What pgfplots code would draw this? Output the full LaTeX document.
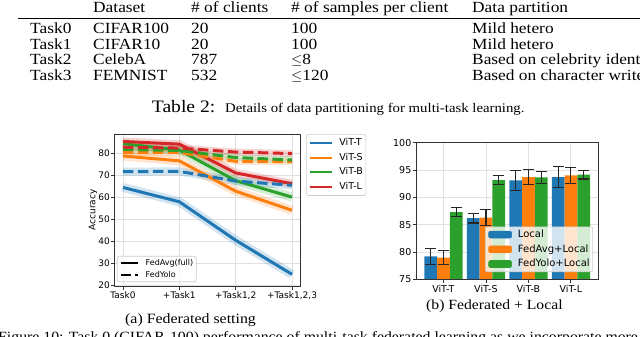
\documentclass[border=0pt]{standalone}
\usepackage{pgfplots}
\pgfplotsset{compat=1.18}
\usepackage{fontspec}
\setmainfont{Liberation Serif}[FakeStretch=1.12]
\newfontfamily\pf{DejaVu Sans}
\definecolor{tblue}{HTML}{1F77B4}
\definecolor{torange}{HTML}{FF7F0E}
\definecolor{tgreen}{HTML}{2CA02C}
\definecolor{tred}{HTML}{D62728}
\newcommand{\fs}[1]{\fontsize{#1}{#1}\selectfont}

% bar position (group index shifted by bar offset), value, error
\pgfplotstableread{
x y e
-0.3 79.2 1.5
0.7 86.2 0.9
1.7 93.1 1.8
2.7 93.7 1.9
}\localtab
\pgfplotstableread{
x y e
0 78.95 1.25
1 86.3 1.45
2 93.7 1.4
3 94.0 1.4
}\avgtab
\pgfplotstableread{
x y e
0.3 87.3 0.8
1.3 93.15 0.8
2.3 93.65 1.05
3.3 94.15 0.8
}\yolotab

\pgfplotsset{
  mpl/.style={
    scale only axis,
    anchor=south west,
    grid=major,
    major grid style={black!12, line width=0.8pt},
    axis line style={black!80, line width=0.8pt},
    tick style={black!80, line width=0.8pt},
    tick align=outside, major tick length=3.5pt, tick pos=left,
    /pgf/number format/assume math mode=true,
    xticklabel style={anchor=north, inner sep=0pt, yshift=-2pt},
    yticklabel style={anchor=east, inner sep=0pt, xshift=-1pt},
  },
  mpllegend/.style={
    draw=black!20, line width=0.6pt, rounded corners=2pt, fill=white,
    inner xsep=3pt, inner ysep=3pt,
    /tikz/every odd column/.append style={column sep=6pt},
    nodes={inner sep=0pt},
  },
}

\begin{document}
\begin{tikzpicture}
\useasboundingbox (0pt,0pt) rectangle (640pt,-337pt);
\clip (0pt,0pt) rectangle (640pt,-337pt);

% ---------- table ----------
\begin{scope}[every node/.style={anchor=base west, inner sep=0pt, font=\fs{15.5}}]
\node at (93pt,-13pt) {Dataset};
\node at (191pt,-13pt) {\# of clients};
\node at (291pt,-13pt) {\# of samples per client};
\node at (472pt,-13pt) {Data partition};
\node at (30pt,-34pt) {Task0};
\node at (93pt,-34pt) {CIFAR100};
\node at (191pt,-34pt) {20};
\node at (291pt,-34pt) {100};
\node at (472pt,-34pt) {Mild hetero};
\node at (30pt,-49.5pt) {Task1};
\node at (93pt,-49.5pt) {CIFAR10};
\node at (191pt,-49.5pt) {20};
\node at (291pt,-49.5pt) {100};
\node at (472pt,-49.5pt) {Mild hetero};
\node at (30pt,-65pt) {Task2};
\node at (93pt,-65pt) {CelebA};
\node at (191pt,-65pt) {787};
\node at (291pt,-65pt) {$\leq$8};
\node at (472pt,-65pt) {Based on celebrity identity};
\node at (30pt,-80.5pt) {Task3};
\node at (93pt,-80.5pt) {FEMNIST};
\node at (191pt,-80.5pt) {532};
\node at (291pt,-80.5pt) {$\leq$120};
\node at (472pt,-80.5pt) {Based on character writer};
\node[font=\fs{17.5}] at (151.7pt,-112.5pt) {Table 2:};
\node[font=\fs{13.2}] at (225pt,-112.5pt) {Details of data partitioning for multi-task learning.};
\node[font=\fs{14.2}] at (125pt,-323pt) {(a) Federated setting};
\node[font=\fs{14}] at (426pt,-309.5pt) {(b) Federated + Local};
\node[font=\fs{14.1}] at (-2pt,-341pt) {Figure 10: Task 0 (CIFAR-100) performance of multi-task federated learning as we incorporate more tasks};
\end{scope}
\draw[black, line width=0.8pt] (18pt,-18.3pt) -- (650pt,-18.3pt);

% ---------- left plot ----------
\begin{axis}[mpl,
  width=186pt, height=152pt, at={(114.5pt,-286pt)},
  xmin=-0.15, xmax=3.15, ymin=19.7, ymax=88.8,
  xtick={0,1,2,3},
  xticklabels={Task0,+Task1,{+Task1,2},{+Task1,2,3}},
  ytick={20,30,...,80},
  tick label style={font=\pf\fs{9}},
  every axis y label/.style={at={(axis description cs:-0.1156,0.5)}, rotate=90, anchor=center, font=\pf\fs{9}},
  ylabel={Accuracy},
  legend style={mpllegend, at={(1.03,1)}, anchor=north west, font=\pf\fs{9.5}, row sep=6pt,
    inner ysep=4pt, nodes={text height=7pt, text depth=1.8pt}},
  legend cell align=left,
  legend image code/.code={\draw[#1, line width=2pt] (0pt,0pt) -- (22pt,0pt);},
  line join=round,
]
% shaded bands
\addplot[tblue, line width=9pt, opacity=0.2, forget plot] coordinates {(0,64.5) (1,58.0) (2,40.5) (3,25.0)};
\addplot[tblue, line width=8pt, opacity=0.2, forget plot] coordinates {(0,71.7) (1,71.8) (2,67.4) (3,65.5)};
\addplot[torange, line width=9pt, opacity=0.2, forget plot] coordinates {(0,78.8) (1,76.6) (2,62.8) (3,54.1)};
\addplot[torange, line width=7pt, opacity=0.2, forget plot] coordinates {(0,80.4) (1,80.4) (2,76.4) (3,76.2)};
\addplot[tgreen, line width=9pt, opacity=0.2, forget plot] coordinates {(0,84.4) (1,81.5) (2,67.6) (3,60.1)};
\addplot[tgreen, line width=7pt, opacity=0.2, forget plot] coordinates {(0,81.8) (1,81.3) (2,78.1) (3,77.0)};
\addplot[tred, line width=8pt, opacity=0.2, forget plot] coordinates {(0,85.4) (1,84.2) (2,71.1) (3,66.2)};
\addplot[tred, line width=7pt, opacity=0.2, forget plot] coordinates {(0,82.8) (1,82.4) (2,80.6) (3,79.9)};
% FedAvg (solid)
\addplot[tblue, line width=3pt, forget plot] coordinates {(0,64.5) (1,58.0) (2,40.5) (3,25.0)};
\addplot[torange, line width=3pt, forget plot] coordinates {(0,78.8) (1,76.6) (2,62.8) (3,54.1)};
\addplot[tgreen, line width=3pt, forget plot] coordinates {(0,84.4) (1,81.5) (2,67.6) (3,60.1)};
\addplot[tred, line width=3pt, forget plot] coordinates {(0,85.4) (1,84.2) (2,71.1) (3,66.2)};
% FedYolo (dashed)
\addplot[tblue, line width=3pt, dash pattern=on 10.5pt off 4.5pt, forget plot] coordinates {(0,71.7) (1,71.8) (2,67.4) (3,65.5)};
\addplot[torange, line width=3pt, dash pattern=on 10.5pt off 4.5pt, forget plot] coordinates {(0,80.4) (1,80.4) (2,76.4) (3,76.2)};
\addplot[tgreen, line width=3pt, dash pattern=on 10.5pt off 4.5pt, forget plot] coordinates {(0,81.8) (1,81.3) (2,78.1) (3,77.0)};
\addplot[tred, line width=3pt, dash pattern=on 10.5pt off 4.5pt, forget plot] coordinates {(0,82.8) (1,82.4) (2,80.6) (3,79.9)};
\addlegendimage{tblue}\addlegendentry{ViT-T}
\addlegendimage{torange}\addlegendentry{ViT-S}
\addlegendimage{tgreen}\addlegendentry{ViT-B}
\addlegendimage{tred}\addlegendentry{ViT-L}
\end{axis}
% second legend of left plot
\begin{axis}[scale only axis, anchor=south west,
  width=186pt, height=152pt, at={(114.5pt,-286pt)},
  hide axis, xmin=0, xmax=1, ymin=0, ymax=1,
  legend style={mpllegend, at={(0.013,0.026)}, anchor=south west, font=\pf\fs{8}, row sep=4.3pt,
    fill opacity=0.8, text opacity=1, draw opacity=1,
    nodes={text height=6pt, text depth=1.6pt}},
  legend cell align=left,
  legend image code/.code={\draw[#1] (0pt,0pt) -- (17pt,0pt);},
]
\addlegendimage{black, line width=2.5pt}\addlegendentry{FedAvg(full)}
\addlegendimage{black, line width=2.5pt, dash pattern=on 9.25pt off 4pt}\addlegendentry{FedYolo}
\end{axis}

% ---------- right plot ----------
\begin{axis}[mpl,
  width=182.3pt, height=136.6pt, at={(416pt,-279.3pt)},
  xmin=-0.645, xmax=3.645, ymin=75, ymax=100,
  xtick={0,1,2,3}, xticklabels={ViT-T,ViT-S,ViT-B,ViT-L},
  ytick={75,80,...,100},
  tick label style={font=\pf\fs{9.5}},
  legend style={mpllegend, at={(0.971,0.053)}, anchor=south east, font=\pf\fs{10}, row sep=5.2pt,
    fill opacity=0.8, text opacity=1, draw opacity=1,
    nodes={text height=7.5pt, text depth=2pt}},
  legend cell align=left,
  legend image code/.code={\fill[#1, fill opacity=1] (0pt,-3.5pt) rectangle (23pt,3.5pt);},
]
\addplot[ybar, bar width=0.3, bar shift=0, fill=tblue, draw=none, forget plot,
  error bars/.cd, y dir=both, y explicit,
  error bar style={black!85, line width=1.2pt},
  error mark options={black!85, rotate=90, mark size=5.5pt, line width=1.2pt}]
  table[x=x, y=y, y error=e] {\localtab};
\addplot[ybar, bar width=0.3, bar shift=0, fill=torange, draw=none, forget plot,
  error bars/.cd, y dir=both, y explicit,
  error bar style={black!85, line width=1.2pt},
  error mark options={black!85, rotate=90, mark size=5.5pt, line width=1.2pt}]
  table[x=x, y=y, y error=e] {\avgtab};
\addplot[ybar, bar width=0.3, bar shift=0, fill=tgreen, draw=none, forget plot,
  error bars/.cd, y dir=both, y explicit,
  error bar style={black!85, line width=1.2pt},
  error mark options={black!85, rotate=90, mark size=5.5pt, line width=1.2pt}]
  table[x=x, y=y, y error=e] {\yolotab};
\draw[black!80, line width=0.8pt] (rel axis cs:0,0) rectangle (rel axis cs:1,1);
\addlegendimage{tblue}\addlegendentry{Local}
\addlegendimage{torange}\addlegendentry{FedAvg+Local}
\addlegendimage{tgreen}\addlegendentry{FedYolo+Local}
\end{axis}
\end{tikzpicture}
\end{document}
